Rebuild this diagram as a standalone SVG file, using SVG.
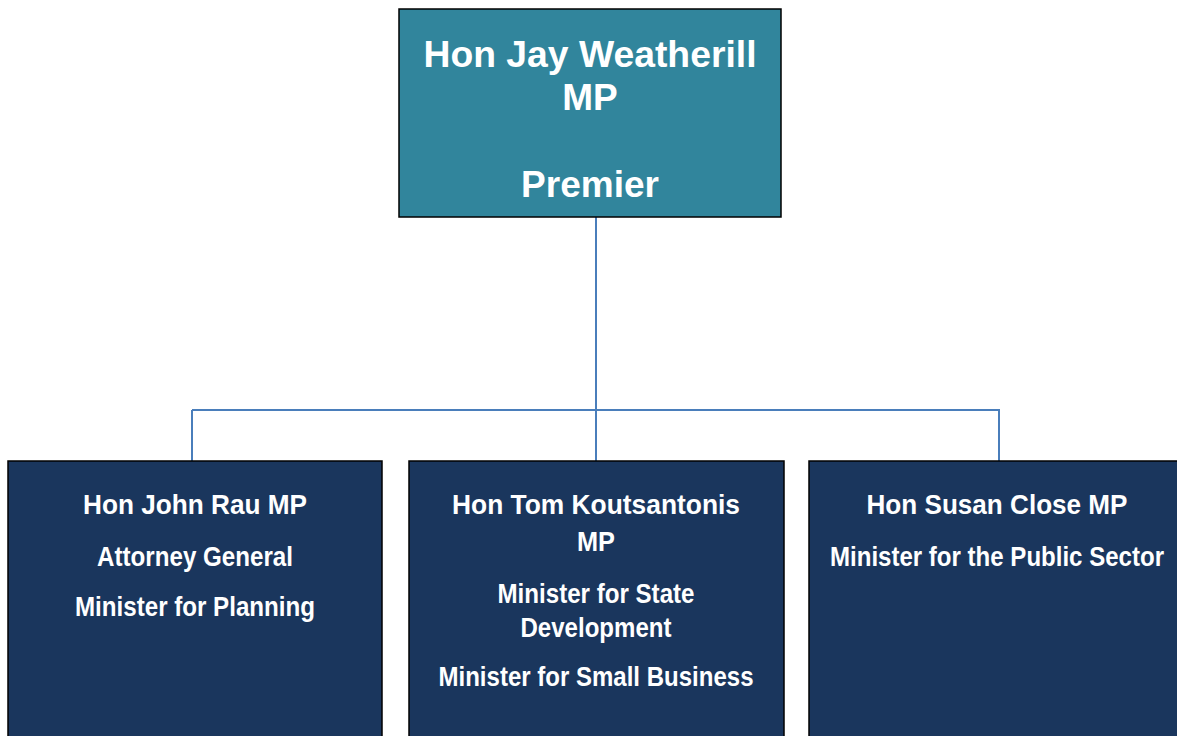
<svg xmlns="http://www.w3.org/2000/svg" width="1177" height="736" viewBox="0 0 1177 736">
<style>
.top{fill:#31859c;stroke:#000;stroke-width:1.5}
.box{fill:#1a365d;stroke:#000;stroke-width:1.5}
.t{fill:#fff;font-family:"Liberation Sans",Arial,sans-serif;font-weight:bold;text-anchor:middle}
.big{font-size:37px}
.sm{font-size:28px}
.conn{fill:none;stroke:#4a7ebb;stroke-width:2}
</style>
<rect width="1177" height="736" fill="#fff"/>
<g id="connectors">
<path class="conn" d="M596 217V410M192 410H1000M192 410V461M596 410V461M999 410V461"/>
</g>
<g id="premier">
<rect class="top" x="399" y="9" width="382" height="208"/>
<text class="t big" x="590" y="67" textLength="333" lengthAdjust="spacingAndGlyphs">Hon Jay Weatherill</text>
<text class="t big" x="590" y="110">MP</text>
<text class="t big" x="590" y="197">Premier</text>
</g>
<g id="rau">
<rect class="box" x="8" y="461" width="374" height="285"/>
<text class="t sm" x="195" y="514" textLength="224" lengthAdjust="spacingAndGlyphs">Hon John Rau MP</text>
<text class="t sm" x="195" y="566" textLength="196" lengthAdjust="spacingAndGlyphs">Attorney General</text>
<text class="t sm" x="195" y="616" textLength="240" lengthAdjust="spacingAndGlyphs">Minister for Planning</text>
</g>
<g id="koutsantonis">
<rect class="box" x="409" y="461" width="375" height="285"/>
<text class="t sm" x="596" y="514" textLength="288" lengthAdjust="spacingAndGlyphs">Hon Tom Koutsantonis</text>
<text class="t sm" x="596" y="551" textLength="38" lengthAdjust="spacingAndGlyphs">MP</text>
<text class="t sm" x="596" y="603" textLength="197" lengthAdjust="spacingAndGlyphs">Minister for State</text>
<text class="t sm" x="596" y="637" textLength="151" lengthAdjust="spacingAndGlyphs">Development</text>
<text class="t sm" x="596" y="686" textLength="315" lengthAdjust="spacingAndGlyphs">Minister for Small Business</text>
</g>
<g id="close">
<rect class="box" x="809" y="461" width="380" height="285"/>
<text class="t sm" x="997" y="514" textLength="261" lengthAdjust="spacingAndGlyphs">Hon Susan Close MP</text>
<text class="t sm" x="997" y="566" textLength="334" lengthAdjust="spacingAndGlyphs">Minister for the Public Sector</text>
</g>
</svg>
